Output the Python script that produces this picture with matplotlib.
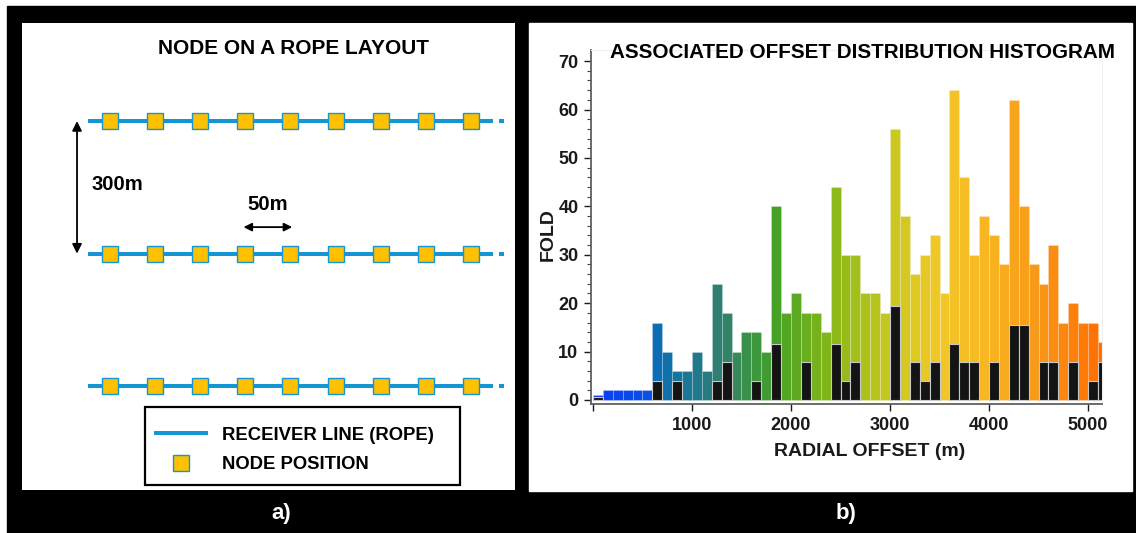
import numpy as np
import matplotlib
matplotlib.use("Agg")
import matplotlib.pyplot as plt
from matplotlib.patches import Rectangle
from matplotlib.colors import LinearSegmentedColormap
from matplotlib.lines import Line2D

plt.rcParams['font.family'] = ['Liberation Sans', 'DejaVu Sans']
plt.rcParams['font.weight'] = 'bold'

# --- a) node on a rope layout (schematic, m) ---
node_x = [0, 50, 100, 150, 200, 250, 300, 350, 400]
line_y = [0, 300, 600]
rope_x = [-24, 425]
rope_tail = [431, 437]

# --- b) offset histogram, 100 m bins ---
bin_left = np.arange(0, 5200, 100)
fold_all = [1.1, 2, 2, 2, 2, 2,
            16, 10, 6, 6, 10, 6,
            24, 18, 10, 14, 14, 10,
            40, 18, 22, 18, 18, 14,
            44, 30, 30, 22, 22, 18,
            56, 38, 26, 30, 34, 22,
            64, 46, 30, 38, 34, 28,
            62, 40, 28, 24, 32, 16,
            20, 16, 16, 12]
fold_black = [0.7, 0, 0, 0, 0, 0,
              3.9, 0, 3.9, 0, 0, 0,
              3.9, 7.8, 0, 0, 3.9, 0,
              11.6, 0, 0, 7.8, 0, 0,
              11.6, 3.9, 7.8, 0, 0, 0,
              19.4, 0, 7.8, 3.9, 7.8, 0,
              11.6, 7.8, 7.8, 0, 7.8, 0,
              15.5, 15.5, 0, 7.8, 7.8, 0,
              7.8, 0, 3.9, 7.8]
xticks = [0, 1000, 2000, 3000, 4000, 5000]
xticklabels = ['', '1000', '2000', '3000', '4000', '5000']
yticks = [0, 10, 20, 30, 40, 50, 60, 70]

# colour ramp along offset
grad_pos = [0, 550, 650, 1000, 1300, 1800, 2400, 3000, 3500, 4000, 4500, 5150]
grad_col = ['#0a3cf5', '#0a50e6', '#0a6eb4', '#1e7890', '#328070', '#40a028',
            '#88b818', '#c8c820', '#f2c828', '#f8b420', '#f89818', '#ff6e00']
cmap = LinearSegmentedColormap.from_list(
    'offs', list(zip([p / grad_pos[-1] for p in grad_pos], grad_col)))

W, H = 1136, 533
fig = plt.figure(figsize=(W / 100, H / 100), dpi=100)

def box(x0, y0, x1, y1):
    return [x0 / W, 1 - y1 / H, (x1 - x0) / W, (y1 - y0) / H]

def pt(x, y):
    return x / W, 1 - y / H

# black frame and white panels (behind the axes)
b = box(7, 6, W, H)
fig.patches.append(Rectangle(b[:2], b[2], b[3], transform=fig.transFigure,
                             color='black', zorder=-10))
b = box(529, 23, 1132, 491)
fig.patches.append(Rectangle(b[:2], b[2], b[3], transform=fig.transFigure,
                             color='white', zorder=-9))

blue = '#1496d4'
node_col = '#ffc000'

# ---------- left panel ----------
ax1 = fig.add_axes(box(22, 23, 515, 490))
ax1.set_xlim(-97.6, 449)
ax1.set_ylim(835, -222)
ax1.set_xticks([])
ax1.set_yticks([])
for s in ax1.spines.values():
    s.set_visible(False)
ax1.set_facecolor('white')

for y in line_y:
    ax1.plot(rope_x, [y, y], color=blue, lw=2.9, solid_capstyle='butt', zorder=2)
    ax1.plot(rope_tail, [y, y], color=blue, lw=2.9, solid_capstyle='butt', zorder=2)
    ax1.plot(node_x, [y] * len(node_x), ls='none', marker='s', ms=11.5,
             mfc=node_col, mec=blue, mew=1.0, zorder=3)

ax1.annotate('', xy=(-36.6, line_y[0]), xytext=(-36.6, line_y[1]),
             arrowprops=dict(arrowstyle='<|-|>', color='black', lw=1.3,
                             mutation_scale=14, shrinkA=0, shrinkB=0))
ax1.text(-20, 143, '300m', fontsize=14.6, ha='left', va='center')
ax1.annotate('', xy=(node_x[3] - 2, 240), xytext=(node_x[4] + 2, 240),
             arrowprops=dict(arrowstyle='<|-|>', color='black', lw=1.3,
                             mutation_scale=12, shrinkA=0, shrinkB=0))
ax1.text((node_x[3] + node_x[4]) / 2, 188, '50m', fontsize=14.6, ha='center', va='center')

fig.text(*pt(293, 48), 'NODE ON A ROPE LAYOUT', fontsize=15, ha='center', va='center')

# legend, with its own square frame
b = box(145, 407, 460, 485)
fig.patches.append(Rectangle(b[:2], b[2], b[3], transform=fig.transFigure,
                             fill=False, edgecolor='black', lw=1.6, zorder=5))
handles = [Line2D([], [], color=blue, lw=2.9),
           Line2D([], [], ls='none', marker='s', ms=12, mfc=node_col, mec=blue, mew=1.0)]
leg = ax1.legend(handles, ['RECEIVER LINE (ROPE)', 'NODE POSITION'],
                 loc='center left', bbox_to_anchor=pt(145, 450),
                 bbox_transform=fig.transFigure,
                 fontsize=13.3, frameon=False,
                 handlelength=2.7, handletextpad=0.86, borderpad=0.6,
                 labelspacing=0.7, borderaxespad=0)

# ---------- right panel ----------
ax2 = fig.add_axes(box(591, 50, 1102, 404))
colors = [cmap((b + 50) / grad_pos[-1]) for b in bin_left]
ax2.bar(bin_left, fold_all, width=100, align='edge', color=colors,
        edgecolor=(1, 1, 1, 0.3), linewidth=0.5, zorder=2)
bx = [b for b, v in zip(bin_left, fold_black) if v > 0]
bv = [v for v in fold_black if v > 0]
ax2.bar(bx, bv, width=100, align='edge', color='#141414',
        edgecolor='#c8c8c8', linewidth=0.8, zorder=3)

ax2.set_xlim(-20, 5141)
ax2.set_ylim(-0.83, 72.3)
ax2.set_xticks(xticks)
ax2.set_xticklabels(xticklabels)
ax2.set_yticks(yticks)
ax2.set_yticks(np.arange(0, 72, 2), minor=True)
ax2.tick_params(axis='both', labelsize=13, colors='#1a1a1a', direction='out',
                length=5, width=1.0)
ax2.tick_params(axis='y', which='minor', length=3, width=0.8, colors='#404040')
ax2.tick_params(axis='y', pad=4)
ax2.tick_params(axis='x', pad=4)
for lab in ax2.get_xticklabels() + ax2.get_yticklabels():
    lab.set_fontweight('bold')
for s in ('left', 'bottom'):
    ax2.spines[s].set_color('#606060')
    ax2.spines[s].set_linewidth(1.3)
for s in ('top', 'right'):
    ax2.spines[s].set_color('#eeeeee')
    ax2.spines[s].set_linewidth(0.8)

fig.text(*pt(863, 53), 'ASSOCIATED OFFSET DISTRIBUTION HISTOGRAM', fontsize=14.9,
         ha='center', va='center')
fig.text(*pt(870, 452), 'RADIAL OFFSET (m)', fontsize=14, ha='center', va='center',
         color='#1a1a1a')
fig.text(*pt(548, 235), 'FOLD', fontsize=14, ha='center', va='center',
         rotation=90, color='#1a1a1a')

fig.text(*pt(281, 514), 'a)', fontsize=16, color='white', ha='center', va='center')
fig.text(*pt(846, 514), 'b)', fontsize=16, color='white', ha='center', va='center')

fig.savefig('out.png', dpi=100, facecolor='white')
